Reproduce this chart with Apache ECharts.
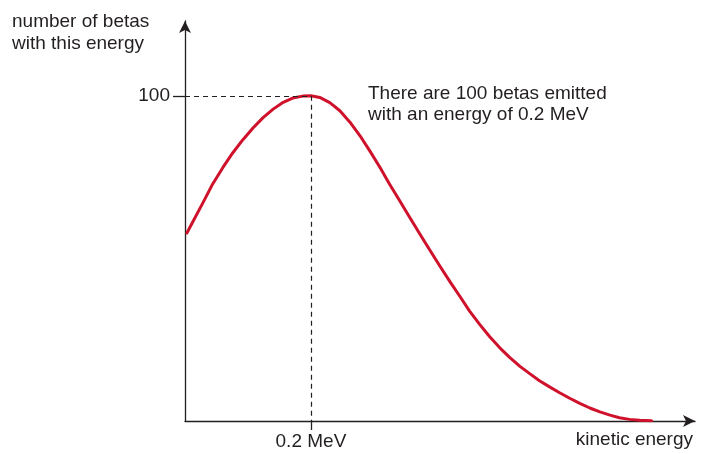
<!DOCTYPE html>
<html>
<head>
<meta charset="utf-8">
<script src="https://cdn.jsdelivr.net/npm/echarts@6/dist/echarts.min.js"></script>
<style>html,body{margin:0;padding:0;background:#fff;}#c{width:704px;height:454px;}</style>
</head>
<body>
<div id="c"></div>
<script>
// kinetic energy (MeV)
const energy = [0.003, 0.029, 0.044, 0.060, 0.076, 0.092, 0.108, 0.124, 0.140, 0.156, 0.171, 0.187, 0.2, 0.214, 0.230, 0.246, 0.262, 0.278, 0.294, 0.310, 0.325, 0.341, 0.357, 0.373, 0.389, 0.405, 0.421, 0.437, 0.452, 0.468, 0.484, 0.5, 0.516, 0.532, 0.548, 0.563, 0.579, 0.595, 0.611, 0.627, 0.643, 0.659, 0.675, 0.690, 0.706, 0.722, 0.741];
// number of betas with this energy
const count = [57.8, 67.3, 72.9, 77.9, 82.5, 86.5, 90.1, 93.3, 95.9, 98.0, 99.3, 99.9, 100, 99.5, 97.9, 95.4, 91.9, 87.7, 82.9, 77.9, 72.8, 67.7, 62.6, 57.5, 52.5, 47.6, 42.8, 38.2, 33.8, 29.7, 25.9, 22.5, 19.5, 16.8, 14.5, 12.4, 10.5, 8.7, 7.0, 5.4, 4.0, 2.8, 1.8, 1.0, 0.5, 0.2, 0.1];
const peakEnergy = 0.2;
const peakCount = 100;
const xTickValues = [0.2];
const xTickLabels = ['0.2 MeV'];
const yTickValues = [100];
const yTickLabels = ['100'];
const yTitle = 'number of betas\nwith this energy';
const xTitle = 'kinetic energy';
const note = 'There are 100 betas emitted\nwith an energy of 0.2 MeV';

const FONT = '"Liberation Sans", Arial, sans-serif';
const INK = '#231f20';
const chart = echarts.init(document.getElementById('c'), null, {renderer: 'canvas'});
chart.setOption({
  animation: false,
  backgroundColor: '#fff',
  grid: {left: 185, right: 9, top: 21, bottom: 33},
  xAxis: {
    type: 'value', min: 0, max: 0.81,
    splitLine: {show: false},
    axisLine: {show: true, onZero: false, symbol: ['none', 'arrow'], symbolSize: [9, 12],
      lineStyle: {color: INK, width: 1.3}},
    axisTick: {show: true, customValues: xTickValues, length: 9, lineStyle: {color: INK, width: 1.3}},
    axisLabel: {customValues: xTickValues, margin: 11, color: INK, fontSize: 19, fontFamily: FONT,
      formatter: v => xTickLabels[xTickValues.indexOf(v)] || ''}
  },
  yAxis: {
    type: 'value', min: 0, max: 123,
    splitLine: {show: false},
    axisLine: {show: true, onZero: false, symbol: ['none', 'arrow'], symbolSize: [9, 12],
      lineStyle: {color: INK, width: 1.3}},
    axisTick: {show: true, customValues: yTickValues, length: 12, lineStyle: {color: INK, width: 1.3}},
    axisLabel: {customValues: yTickValues, margin: 15, color: INK, fontSize: 19, fontFamily: FONT,
      formatter: v => yTickLabels[yTickValues.indexOf(v)] || ''}
  },
  series: [{
    type: 'line',
    data: energy.map((e, i) => [e, count[i]]),
    smooth: false,
    showSymbol: false,
    lineStyle: {color: '#d0112b', width: 3, join: 'round', cap: 'round'},
    z: 3,
    markLine: {
      silent: true, symbol: 'none', animation: false,
      label: {show: false},
      lineStyle: {color: INK, type: [5, 4], width: 1.2},
      data: [
        [{coord: [0, peakCount]}, {coord: [peakEnergy, peakCount]}],
        [{coord: [peakEnergy, peakCount]}, {coord: [peakEnergy, 0]}]
      ]
    }
  }],
  graphic: [
    {type: 'text', left: 12, top: 11, style: {text: yTitle, fill: INK, font: '19px ' + FONT, lineHeight: 22}},
    {type: 'text', right: 11, top: 430, style: {text: xTitle, fill: INK, font: '19px ' + FONT}},
    {type: 'text', left: 368, top: 83, style: {text: note, fill: INK, font: '19px ' + FONT, lineHeight: 21}}
  ]
});
</script>
</body>
</html>
